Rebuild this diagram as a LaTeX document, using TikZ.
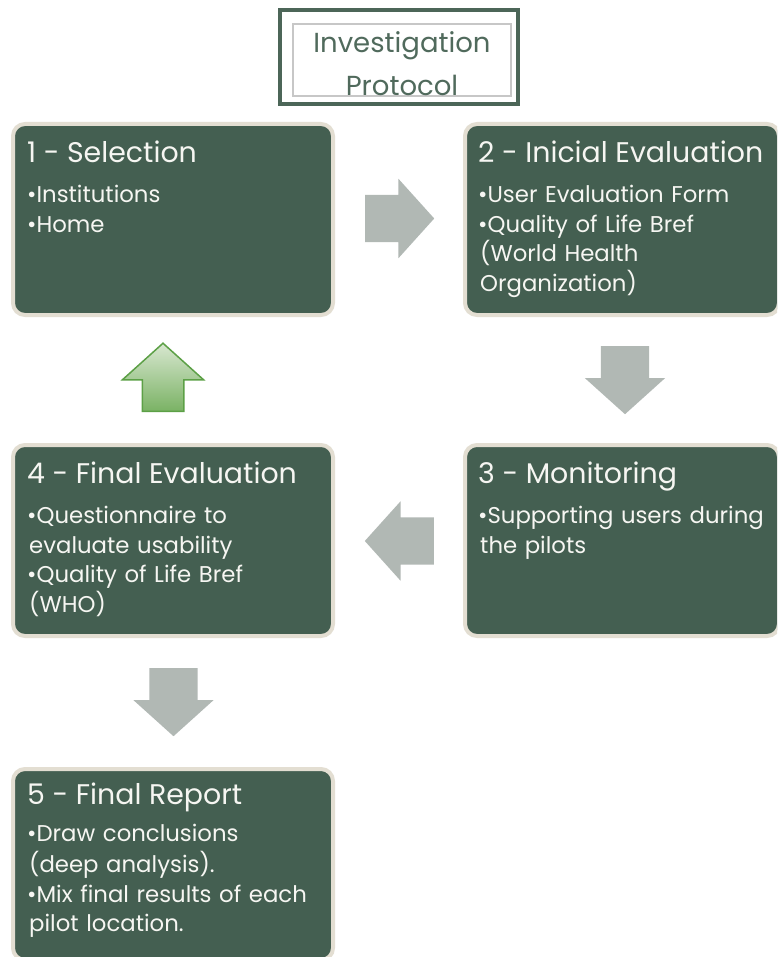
\documentclass[tikz,border=0pt]{standalone}
\usepackage{fontspec}
\setmainfont{Poppins}
\usepackage{xcolor}
\usetikzlibrary{positioning,calc,shapes.arrows}

\definecolor{stagegreen}{RGB}{68,95,81}
\definecolor{stageedge}{RGB}{227,222,210}
\definecolor{stagetext}{RGB}{246,246,242}
\definecolor{arrowgray}{RGB}{177,184,180}
\definecolor{titleedge}{RGB}{76,102,88}
\definecolor{titletext}{RGB}{80,106,92}

\begin{document}
\begin{tikzpicture}[
        x=1pt, y=-1pt,
        % stage boxes
        stage_box/.style={draw=stageedge, fill=stagegreen, line width=4pt, rounded corners=12pt, minimum width=320pt, minimum height=191pt, inner sep=0pt},
        stage_title/.style={anchor=base west, inner sep=0pt, text=stagetext, font=\fontsize{28.4}{30}\selectfont},
        stage_list/.style={anchor=north west, inner sep=0pt, text=stagetext, text width=300pt, align=left, font=\fontsize{22.8}{29.5}\selectfont},
        % block arrows between the stages (anchored at their tails)
        step_arrow/.style={single arrow, draw=none, fill=arrowgray, anchor=tail, inner xsep=0pt, inner ysep=23.5pt, minimum height=69pt, single arrow head extend=16pt, single arrow tip angle=96},
        step_down/.style={step_arrow, shape border rotate=270, inner xsep=24pt, inner ysep=0pt, minimum height=68pt},
        back_arrow/.style={single arrow, shape border rotate=90, anchor=tail, draw={rgb,255:red,92;green,160;blue,70}, line width=1.5pt, top color={rgb,255:red,216;green,231;blue,208}, bottom color={rgb,255:red,122;green,178;blue,100}, inner xsep=20pt, inner ysep=0pt, minimum height=68pt, single arrow head extend=20pt, single arrow tip angle=96},
        % title
        title_box/.style={draw=titleedge, fill=white, line width=4pt, minimum width=238pt, minimum height=94pt, inner sep=0pt},
        title_inner/.style={draw=black!22, line width=1.2pt, minimum width=218pt, minimum height=72pt, inner sep=0pt},
        title_text/.style={anchor=north, inner sep=0pt, text=titletext, text width=218pt, align=center, font=\fontsize{27.5}{43}\selectfont}
    ]

    \fill[white] (0,0) rectangle (777,957);
    \useasboundingbox (0,0) rectangle (777,957);
    \clip (0,0) rectangle (777,957);

    % ==========================================
    % 1. title
    % ==========================================
    \node[title_box] (proto) at (399,57) {};
    \node[title_inner] (proto_in) at (402,60) {};
    \node[title_text] (proto_text) at (402,22.5) {\strut Investigation\\Protocol};

    % ==========================================
    % 2. stages (two columns)
    % ==========================================
    \node[stage_box] (sel) at (173,219.5) {};
    \node[stage_box, minimum width=314pt] (ini_eval) at (622,219.5) {};
    \node[stage_box, minimum width=314pt] (monitor) at (622,540.5) {};
    \node[stage_box] (fin_eval) at (173,540.5) {};
    \node[stage_box] (report) at (173,864.5) {};

    % --- stage texts ---
    \node[stage_title] (sel_title) at ([shift={(16,40.5)}]sel.north west) {1 - Selection};
    \node[stage_list] (sel_list) at ([shift={(0,19.4)}]sel_title.base west) {%
        \strut•Institutions\par
        •Home\par};

    \node[stage_title] (ini_title) at ([shift={(15,40.5)}]ini_eval.north west) {2 - Inicial Evaluation};
    \node[stage_list] (ini_list) at ([shift={(0,19.4)}]ini_title.base west) {%
        \strut•User Evaluation Form\par
        •Quality of Life Bref\newline\hspace*{2pt}(World Health\newline\hspace*{2pt}Organization)\par};

    \node[stage_title] (mon_title) at ([shift={(15,40.5)}]monitor.north west) {3 - Monitoring};
    \node[stage_list] (mon_list) at ([shift={(0,19.4)}]mon_title.base west) {%
        \strut•Supporting users during\newline\hspace*{2pt}the pilots\par};

    \node[stage_title] (fin_title) at ([shift={(16,40.5)}]fin_eval.north west) {4 - Final Evaluation};
    \node[stage_list] (fin_list) at ([shift={(0,19.4)}]fin_title.base west) {%
        \strut•Questionnaire to\newline\hspace*{2pt}evaluate usability\par
        •Quality of Life Bref\newline\hspace*{2pt}(WHO)\par};

    \node[stage_title] (rep_title) at ([shift={(16,37.5)}]report.north west) {5 - Final Report};
    \node[stage_list] (rep_list) at ([shift={(0,16.4)}]rep_title.base west) {%
        \strut•Draw conclusions\newline\hspace*{2pt}(deep analysis).\par
        •Mix final results of each\newline\hspace*{2pt}pilot location.\par};

    % ==========================================
    % 3. block arrows
    % ==========================================
    \node[step_arrow] (arr_a) at ([shift={(30,-1)}]sel.east) {};
    \node[step_down] (arr_b) at ([shift={(3,29)}]ini_eval.south) {};
    \node[step_arrow, shape border rotate=180] (arr_c) at ([shift={(-29,0.5)}]monitor.west) {};
    \node[back_arrow] (arr_d) at ([shift={(-10,-31)}]fin_eval.north) {};
    \node[step_down] (arr_e) at ([shift={(0.5,30)}]fin_eval.south) {};

\end{tikzpicture}
\end{document}
